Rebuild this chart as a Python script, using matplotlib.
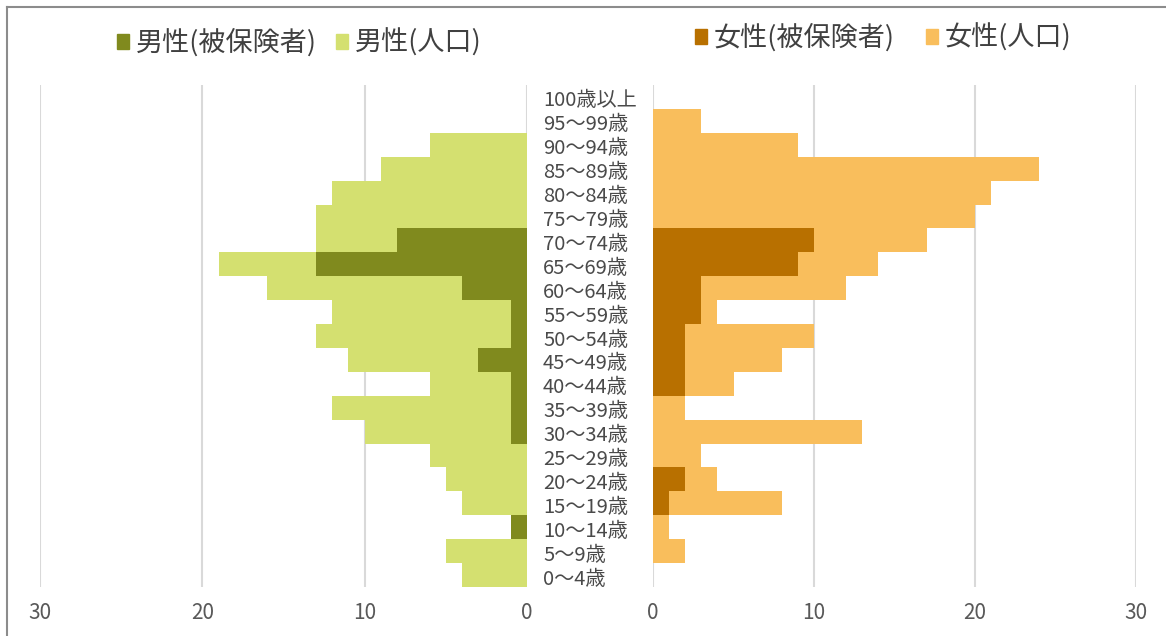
import numpy as np
import matplotlib
matplotlib.use("Agg")
import matplotlib.pyplot as plt
from matplotlib.patches import Patch
from matplotlib.lines import Line2D
from matplotlib.transforms import blended_transform_factory, offset_copy

plt.rcParams["font.family"] = ["Noto Sans CJK JP", "DejaVu Sans"]

# age groups, bottom to top
ages = ["0～4歳", "5～9歳", "10～14歳", "15～19歳", "20～24歳", "25～29歳",
        "30～34歳", "35～39歳", "40～44歳", "45～49歳", "50～54歳", "55～59歳",
        "60～64歳", "65～69歳", "70～74歳", "75～79歳", "80～84歳", "85～89歳",
        "90～94歳", "95～99歳", "100歳以上"]
male_pop = [4, 5, 1, 4, 5, 6, 10, 12, 6, 11, 13, 12, 16, 19, 13, 13, 12, 9, 6, 0, 0]
male_ins = [0, 0, 1, 0, 0, 0, 1, 1, 1, 3, 1, 1, 4, 13, 8, 0, 0, 0, 0, 0, 0]
female_pop = [0, 2, 1, 8, 4, 3, 13, 2, 5, 8, 10, 4, 12, 14, 17, 20, 21, 24, 9, 3, 0]
female_ins = [0, 0, 0, 1, 2, 0, 0, 0, 2, 2, 2, 3, 3, 9, 10, 0, 0, 0, 0, 0, 0]
ticks = [0, 10, 20, 30]

c_mi, c_mp = "#808A1E", "#D4E070"
c_fi, c_fp = "#B87000", "#F9BE5C"
grid_c, tick_c = "#D9D9D9", "#595959"

W, H = 1166, 636
fig = plt.figure(figsize=(W / 100, H / 100), dpi=100)
y = np.arange(len(ages))

bot, top = 1 - 587 / H, 1 - 85 / H
ax_l = fig.add_axes([40 / W, bot, (527 - 40) / W, top - bot])
ax_r = fig.add_axes([653 / W, bot, (1136 - 653) / W, top - bot])

ax_l.barh(y, male_pop, height=1.0, color=c_mp, zorder=2)
ax_l.barh(y, male_ins, height=1.0, color=c_mi, zorder=3)
ax_r.barh(y, female_pop, height=1.0, color=c_fp, zorder=2)
ax_r.barh(y, female_ins, height=1.0, color=c_fi, zorder=3)

for ax in (ax_l, ax_r):
    ax.set_xlim(0, 30)
    ax.set_ylim(-0.5, len(ages) - 0.5)
    ax.set_xticks(ticks)
    ax.set_yticks([])
    ax.xaxis.grid(True, color=grid_c, lw=1.5, zorder=0)
    ax.tick_params(axis="x", length=0, pad=11, labelsize=15, labelcolor=tick_c)
    for s in ax.spines.values():
        s.set_visible(False)
ax_l.invert_xaxis()

# age labels between the two halves, sitting a few pixels below the bar centres
tr = blended_transform_factory(fig.transFigure, ax_l.transData)
tr = offset_copy(tr, fig=fig, x=0, y=-4, units="dots")
for yi, lab in zip(y, ages):
    ax_l.text(543 / W, yi, lab, transform=tr, ha="left", va="center",
              fontsize=14.5, color="#4a4a4a", clip_on=False)

# legends
kw = dict(frameon=False, ncol=2, fontsize=19.5, handlelength=0.45, handleheight=0.45,
          handletextpad=0.25, borderaxespad=0, labelcolor="#404040")
fig.legend(handles=[Patch(color=c_mi), Patch(color=c_mp)],
           labels=["男性(被保険者)", "男性(人口)"], columnspacing=0.7,
           loc="center left", bbox_to_anchor=(106 / W, 1 - 43 / H), **kw)
fig.legend(handles=[Patch(color=c_fi), Patch(color=c_fp)],
           labels=["女性(被保険者)", "女性(人口)"], columnspacing=1.15,
           loc="center left", bbox_to_anchor=(684 / W, 1 - 38 / H), **kw)

# outer frame
fig.add_artist(Line2D([7 / W, 1], [1 - 7 / H, 1 - 7 / H], color="#8C8C8C", lw=1.5,
                      transform=fig.transFigure))
fig.add_artist(Line2D([7 / W, 7 / W], [0, 1 - 7 / H], color="#8C8C8C", lw=1.5,
                      transform=fig.transFigure))

fig.savefig("out.png", dpi=100)
